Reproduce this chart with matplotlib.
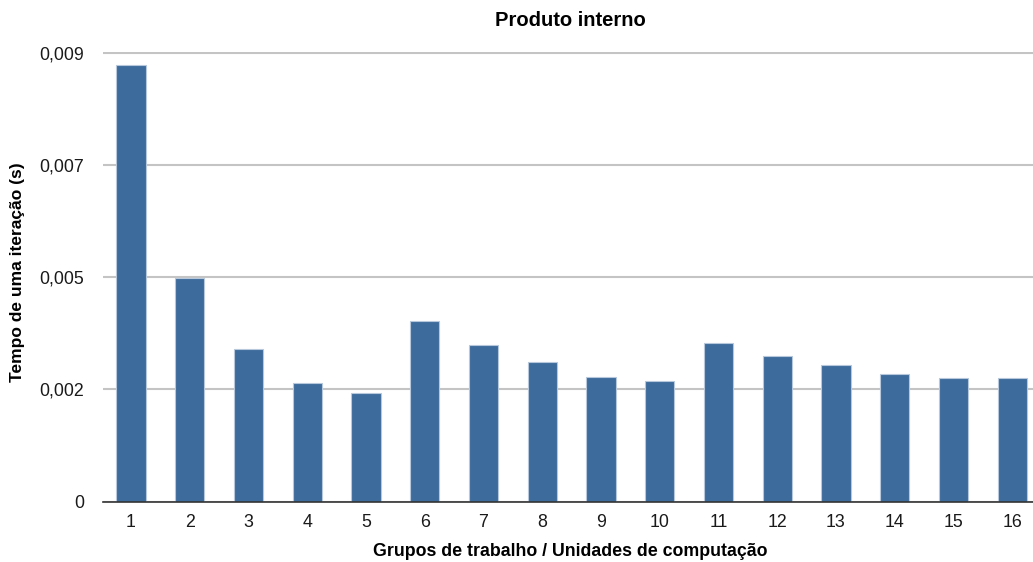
import matplotlib
matplotlib.use("Agg")
import matplotlib.pyplot as plt
from matplotlib.ticker import FixedLocator, FixedFormatter

plt.rcParams['font.family'] = ['Liberation Sans', 'DejaVu Sans']

groups = [str(i) for i in range(1, 17)]
times = [0.00875, 0.00448, 0.003065, 0.002384, 0.002172, 0.003626, 0.003146, 0.002793,
         0.002498, 0.002412, 0.00318, 0.002913, 0.002739, 0.002565, 0.002472, 0.002472]
y_ticks = [0, 0.00225, 0.0045, 0.00675, 0.009]
y_tick_labels = ["0", "0,002", "0,005", "0,007", "0,009"]

title = "Produto interno"
x_label = "Grupos de trabalho / Unidades de computação"
y_label = "Tempo de uma iteração (s)"

fig = plt.figure(figsize=(10.33, 5.62), dpi=100)
W, H = 1033, 562
ax_left, ax_right, ax_top, ax_bottom = 103.3, 1033, 52.5, 501.7
ax = fig.add_axes([ax_left / W, 1 - ax_bottom / H, (ax_right - ax_left) / W, (ax_bottom - ax_top) / H])

positions = list(range(1, len(groups) + 1))
ax.bar(positions, times, width=0.5, color='#3d6b9b', edgecolor='#b7c8dc', linewidth=0.8, zorder=3)

ax.set_ylim(0, 0.009)
ax.set_xlim(0.529, 16.354)
ax.yaxis.set_major_locator(FixedLocator(y_ticks))
ax.yaxis.set_major_formatter(FixedFormatter(y_tick_labels))
ax.set_xticks(positions)
ax.set_xticklabels(groups)

ax.grid(axis='y', color='#c4c4c4', linewidth=1.5, zorder=0)
for side in ['top', 'right', 'left']:
    ax.spines[side].set_visible(False)
ax.spines['bottom'].set_color('#333333')
ax.spines['bottom'].set_linewidth(1.2)
ax.spines['bottom'].set_zorder(4)

ax.tick_params(axis='both', length=0, labelsize=12.8, colors='#1a1a1a')
ax.tick_params(axis='y', pad=20)
ax.tick_params(axis='x', pad=9)
ax.tick_params(axis='y', pad=14)

fig.text(570 / W, 1 - 20 / H, title, ha='center', va='center', fontsize=14.5, fontweight='bold')
fig.text(570.5 / W, 1 - 552 / H, x_label, ha='center', va='center', fontsize=12.8, fontweight='bold')
fig.text(18 / W, 1 - 272 / H, y_label, ha='center', va='center', rotation=90, fontsize=12.5, fontweight='bold')

fig.savefig('out.png', dpi=100)
